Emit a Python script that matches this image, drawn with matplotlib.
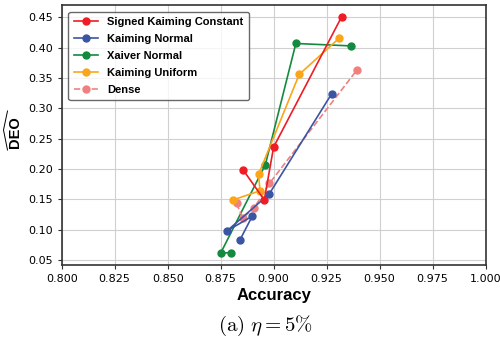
import matplotlib
matplotlib.use("Agg")
import matplotlib.pyplot as plt
from matplotlib.lines import Line2D

# data (accuracy, DEO)
skc_acc = [0.8857, 0.8956, 0.9000, 0.9321]
skc_deo = [0.198, 0.149, 0.236, 0.451]
kn_acc = [0.8840, 0.8899, 0.8781, 0.8980, 0.9274]
kn_deo = [0.082, 0.122, 0.098, 0.159, 0.324]
xn_acc = [0.8797, 0.8750, 0.8961, 0.9105, 0.9365]
xn_deo = [0.062, 0.061, 0.207, 0.407, 0.403]
ku_acc = [0.8810, 0.8936, 0.8929, 0.9121, 0.9310]
ku_deo = [0.149, 0.164, 0.191, 0.356, 0.416]
dense_acc = [0.8825, 0.8855, 0.8909, 0.8980, 0.9395]
dense_deo = [0.143, 0.119, 0.136, 0.176, 0.364]

xticks = [0.800, 0.825, 0.850, 0.875, 0.900, 0.925, 0.950, 0.975, 1.000]

W, H = 500, 342
fig = plt.figure(figsize=(W / 100, H / 100), dpi=100)
ax = fig.add_axes([61.7 / W, 1 - 265 / H, (485.5 - 61.7) / W, 260 / H])

ax.plot(skc_acc, skc_deo, "o-", c="#ee1c25", ms=5, lw=1.2, label="Signed Kaiming Constant", zorder=5)
ax.plot(kn_acc, kn_deo, "o-", c="#3a55a4", ms=5, lw=1.2, label="Kaiming Normal", zorder=4)
ax.plot(xn_acc, xn_deo, "o-", c="#138a3e", ms=5, lw=1.2, label="Xaiver Normal", zorder=3)
ax.plot(ku_acc, ku_deo, "o-", c="#fba51a", ms=5, lw=1.2, label="Kaiming Uniform", zorder=4)
ax.plot(dense_acc, dense_deo, "o--", c="#f08080", ms=5, lw=1.2, label="Dense", zorder=3)

ax.set_xlim(0.8, 1.0)
ax.set_xticks(xticks)
ax.set_xticklabels(["%.3f" % t for t in xticks])
ax.set_yticks([0.05, 0.10, 0.15, 0.20, 0.25, 0.30, 0.35, 0.40, 0.45])
ax.tick_params(labelsize=8, color="#333333", length=3)
ax.grid(True, color="#d0d0d0", lw=0.8)
ax.set_axisbelow(True)
for s in ax.spines.values():
    s.set_color("#333333")
    s.set_linewidth(1.2)

ax.set_xlabel("Accuracy", fontsize=12, fontweight="bold", family="Liberation Sans", labelpad=3)

# y label: bold DEO with a wide hat (drawn as a thin bracket)
fig.text(15 / W, 1 - 132 / H, "DEO", rotation=90, ha="center", va="center",
         fontsize=10.5, fontweight="bold", family="Liberation Sans")
fig.add_artist(Line2D([7.5 / W, 3.5 / W, 7.5 / W], [1 - 111 / H, 1 - 130 / H, 1 - 150 / H],
                      color="black", lw=0.7, transform=fig.transFigure))

leg = ax.legend(loc="upper left", prop={"weight": "bold", "size": 8, "family": "Liberation Sans"},
                frameon=True, edgecolor="#444444", fancybox=True, borderpad=0.5,
                handlelength=2.2, labelspacing=0.62, borderaxespad=0.6)
leg.get_frame().set_linewidth(1.0)

fig.text(0.532, 1 - 326 / H, r"$\mathrm{(a)}\ \eta = 5\%$", ha="center", va="center",
         fontsize=15, math_fontfamily="cm")

fig.savefig("out.png", dpi=100)
